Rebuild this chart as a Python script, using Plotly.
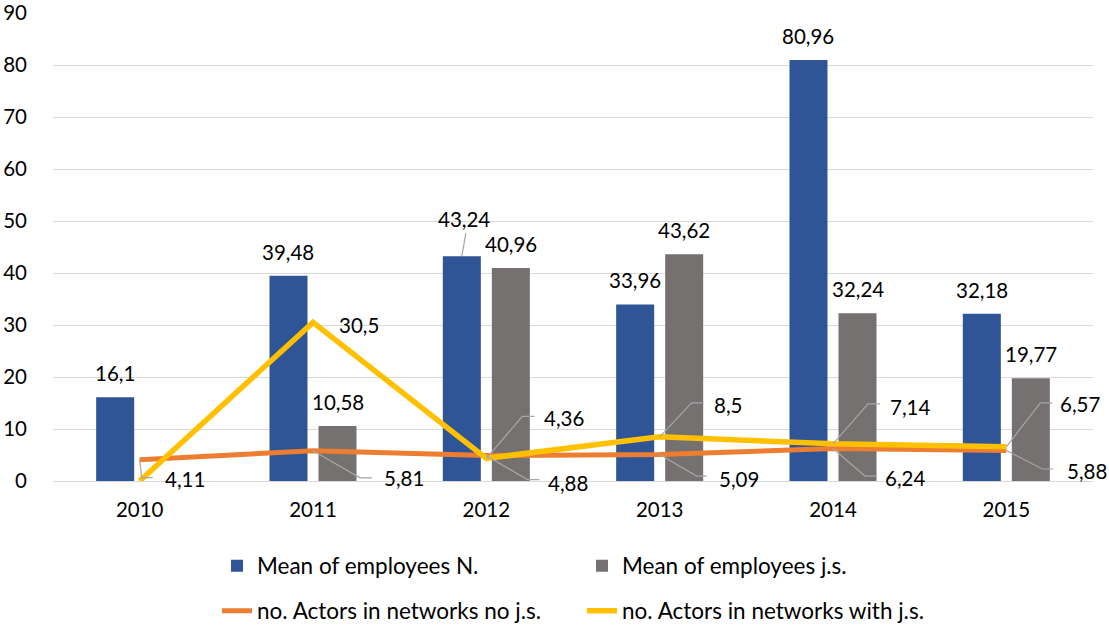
import plotly.graph_objects as go

# ---- data -------------------------------------------------------------
years = ["2010", "2011", "2012", "2013", "2014", "2015"]
mean_emp_n = [16.1, 39.48, 43.24, 33.96, 80.96, 32.18]
mean_emp_js = [None, 10.58, 40.96, 43.62, 32.24, 19.77]
actors_no_js = [4.11, 5.81, 4.88, 5.09, 6.24, 5.88]
actors_with_js = [0, 30.5, 4.36, 8.5, 7.14, 6.57]

y_ticks = [0, 10, 20, 30, 40, 50, 60, 70, 80, 90]

# ---- style ------------------------------------------------------------
FONT = "Lato"
FS = 20.5
FS_LEGEND = 22.5
BLUE, GREY, ORANGE, YELLOW = "#2F5597", "#767171", "#ED7D31", "#FFC000"
GRID = "#D9D9D9"
LEADER = "#A6A6A6"

W, H = 1109, 625
M_L, M_R, M_T, M_B = 53, 16, 13, 144
BARGAP, BARGROUPGAP = 0.4345, 0.2245

plot_w = W - M_L - M_R
plot_h = H - M_T - M_B
cat_w = plot_w / len(years)
bar_shift = cat_w * (1 - BARGAP) / 4  # centre of each bar from category centre


def fmt(v):
    return f"{v:g}".replace(".", ",")


fig = go.Figure()
fig.add_trace(go.Bar(x=years, y=mean_emp_n, name="Mean of employees N.",
                     marker=dict(color=BLUE, line_width=0), legend="legend"))
fig.add_trace(go.Bar(x=years, y=mean_emp_js, name="Mean of employees j.s.",
                     marker=dict(color=GREY, line_width=0), legend="legend"))
fig.add_trace(go.Scatter(x=years, y=actors_no_js, mode="lines",
                         name="no. Actors in networks no j.s.",
                         line=dict(color=ORANGE, width=5), legend="legend2"))
fig.add_trace(go.Scatter(x=years, y=actors_with_js, mode="lines",
                         name="no. Actors in networks with j.s.",
                         line=dict(color=YELLOW, width=5.5), legend="legend2"))

annotations = []
shapes = []


def text_ann(i, y, text, xshift, yshift, xanchor="center"):
    annotations.append(dict(x=i, y=y, xref="x", yref="y", text=text,
                            showarrow=False, xanchor=xanchor, yanchor="middle",
                            xshift=xshift, yshift=yshift,
                            font=dict(family=FONT, size=FS, color="#000000")))


def leader(i, y, path):
    shapes.append(dict(type="path", xref="x", yref="y",
                       xsizemode="pixel", ysizemode="pixel",
                       xanchor=i, yanchor=y, path=path,
                       line=dict(color=LEADER, width=1.2)))


# bar value labels (above the bars)
for i, (yr, v) in enumerate(zip(years, mean_emp_n)):
    if yr == "2012":
        # callout lifted above the neighbouring label
        leader(i, v, f"M{-bar_shift:.1f},0 L{-bar_shift + 4:.1f},23")
        text_ann(i, v, fmt(v), -bar_shift + 2, 37)
    else:
        text_ann(i, v, fmt(v), -bar_shift, 24)
for i, v in enumerate(mean_emp_js):
    if v is not None:
        text_ann(i, v, fmt(v), bar_shift, 24)

# line value labels with elbow leaders: (elbow dx, elbow dy, end dx, text dx, text dy)
no_js_callouts = [(2, -18, 13, 23, -19),
                  (47, -27, 59, 69, -27),
                  (41, -24, 53, 60, -27),
                  (37, -21.5, 47, 57, -24),
                  (32, -27.5, 44, 50, -29.5),
                  (36, -18.6, 47, 59, -20.6)]
with_js_callouts = [None,
                    None,
                    (36, 42, 48, 56, 40),
                    (32, 34, 44, 52, 32),
                    (35, 40, 47, 55, 37),
                    (34, 44, 46, 52, 43)]

for i, (v, c) in enumerate(zip(actors_no_js, no_js_callouts)):
    ex, ey, hx, tx, ty = c
    leader(i, v, f"M0,0 L{ex},{ey} L{hx},{ey}")
    text_ann(i, v, fmt(v), tx, ty, xanchor="left")

for i, (v, c) in enumerate(zip(actors_with_js, with_js_callouts)):
    if i == 0:
        continue
    if c is None:
        text_ann(i, v, fmt(v), 24, -3, xanchor="left")
    else:
        ex, ey, hx, tx, ty = c
        leader(i, v, f"M0,0 L{ex},{ey} L{hx},{ey}")
        text_ann(i, v, fmt(v), tx, ty, xanchor="left")

legend_common = dict(orientation="h", xanchor="left", yanchor="middle",
                     x=(217 - M_L) / plot_w, entrywidth=320,
                     bgcolor="rgba(0,0,0,0)",
                     font=dict(family=FONT, size=FS_LEGEND, color="#000000"))

fig.update_layout(
    width=W, height=H,
    margin=dict(l=M_L, r=M_R, t=M_T, b=M_B, autoexpand=False),
    paper_bgcolor="white", plot_bgcolor="white",
    barmode="group", bargap=BARGAP, bargroupgap=BARGROUPGAP,
    font=dict(family=FONT, size=FS, color="#000000"),
    showlegend=True,
    legend=dict(legend_common, y=-(566 - (H - M_B)) / plot_h),
    legend2=dict(legend_common, y=-(611 - (H - M_B)) / plot_h),
    annotations=annotations,
    shapes=shapes,
    xaxis=dict(type="category", range=[-0.5, len(years) - 0.5],
               showgrid=False, showline=False, automargin=False,
               zeroline=False, ticks="", ticklabelstandoff=14,
               tickfont=dict(family=FONT, size=FS, color="#000000")),
    yaxis=dict(range=[0, 90], tickvals=y_ticks, showgrid=True, automargin=False,
               gridcolor=GRID, gridwidth=1, zeroline=True, zerolinecolor=GRID,
               zerolinewidth=1, showline=False, ticks="", ticklabelstandoff=25,
               tickfont=dict(family=FONT, size=FS, color="#000000")),
)

fig.write_html("out.html")
